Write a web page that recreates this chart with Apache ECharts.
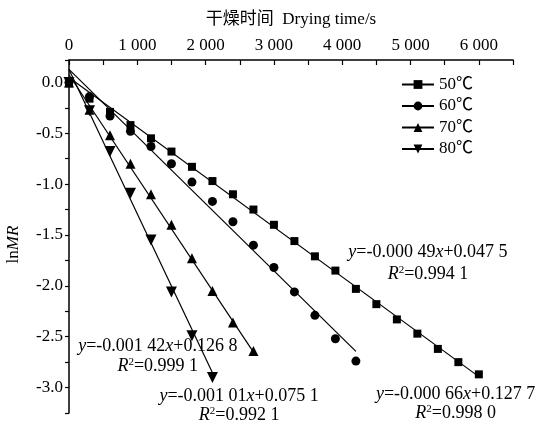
<!DOCTYPE html>
<html>
<head>
<meta charset="utf-8">
<script src="https://cdn.jsdelivr.net/npm/echarts@6/dist/echarts.min.js"></script>
<style>
html, body { margin: 0; padding: 0; background: #fff; }
#chart { width: 542px; height: 423px; }
</style>
</head>
<body>
<div id="chart"></div>
<script>
// 干燥时间 (s)
var times = [0, 300, 600, 900, 1200, 1500, 1800, 2100, 2400, 2700, 3000,
             3300, 3600, 3900, 4200, 4500, 4800, 5100, 5400, 5700, 6000];
// lnMR 实测值
var lnMR50 = [-0.01, -0.16, -0.29, -0.42, -0.55, -0.68, -0.83, -0.97, -1.10, -1.25, -1.40,
              -1.56, -1.71, -1.85, -2.03, -2.18, -2.33, -2.47, -2.62, -2.75, -2.87];
var lnMR60 = [0, -0.14, -0.33, -0.48, -0.63, -0.80, -0.98, -1.17, -1.37, -1.60, -1.82,
              -2.06, -2.29, -2.52, -2.74];
var lnMR70 = [0, -0.27, -0.52, -0.80, -1.10, -1.40, -1.73, -2.05, -2.36, -2.64];
var lnMR80 = [0, -0.28, -0.68, -1.09, -1.55, -2.06, -2.49, -2.90];
// 拟合方程 y = k x + b
var names = ['50℃', '60℃', '70℃', '80℃'];
var fitK = [-0.00049, -0.00066, -0.00101, -0.00142];
var fitB = [0.0475, 0.1277, 0.0751, 0.1268];
var fitEnd = [6000, 4200, 2700, 2100];
var eqText = ['-0.000 49', '-0.000 66', '-0.001 01', '-0.001 42'];
var eqB = ['0.047 5', '0.127 7', '0.075 1', '0.126 8'];
var r2Text = ['0.994 1', '0.998 0', '0.992 1', '0.999 1'];

var FONT = '"Liberation Serif", "Times New Roman", "Noto Sans CJK SC", serif';
var allData = [lnMR50, lnMR60, lnMR70, lnMR80];
var symbols = ['rect', 'circle', 'triangle', 'triangle'];
var rotates = [0, 0, 0, 180];
var sizes = [8, 9, 10, 11];
// 方程标注位置（数据坐标）
var notePos = [[5255, -1.668], [5660, -3.065], [2490, -3.085], [1300, -2.593]];
var lineGap = [0.22, 0.19, 0.19, 0.20];

var chart = echarts.init(document.getElementById('chart'));

var series = [];
names.forEach(function (n, i) {
  // 拟合直线
  series.push({
    name: n,
    type: 'line',
    symbol: symbols[i],
    symbolRotate: rotates[i],
    showSymbol: false,
    silent: true,
    color: '#000',
    lineStyle: { color: '#000', width: 1.2 },
    data: [[0, fitB[i]], [fitEnd[i], fitB[i] + fitK[i] * fitEnd[i]]],
    z: 2
  });
  // 实测点
  series.push({
    name: n,
    type: 'scatter',
    symbol: symbols[i],
    symbolRotate: rotates[i],
    symbolSize: sizes[i],
    itemStyle: { color: '#000', opacity: 1 },
    data: allData[i].map(function (v, j) { return [times[j], v]; }),
    z: 3
  });
});

var rich = {
  i: { fontStyle: 'italic', fontFamily: FONT, fontSize: 18, color: '#000' },
  n: { fontFamily: FONT, fontSize: 18, color: '#000' },
  s: { fontFamily: FONT, fontSize: 11, color: '#000', padding: [0, 0, 8, 0] }
};
var notes = [];
names.forEach(function (n, i) {
  notes.push({ value: notePos[i], txt: '{i|y}{n|=' + eqText[i] + '}{i|x}{n|+' + eqB[i] + '}' });
  notes.push({ value: [notePos[i][0], notePos[i][1] - lineGap[i]], txt: '{i|R}{s|2}{n|=' + r2Text[i] + '}' });
});
series.push({
  name: 'notes',
  type: 'scatter',
  silent: true,
  clip: false,
  symbolSize: 1,
  itemStyle: { color: 'rgba(0,0,0,0)', opacity: 1 },
  label: {
    show: true,
    position: 'inside',
    color: '#000',
    opacity: 1,
    formatter: function (p) { return notes[p.dataIndex].txt; },
    rich: rich
  },
  data: notes.map(function (d) { return d.value; }),
  z: 4
});

chart.setOption({
  animation: false,
  backgroundColor: '#fff',
  textStyle: { fontFamily: FONT, color: '#000' },
  grid: { left: 69, right: 29, top: 60, bottom: 10, outerBoundsMode: 'none', containLabel: false },
  legend: {
    data: names,
    orient: 'vertical',
    left: 396,
    top: 71,
    itemWidth: 32,
    itemHeight: 11,
    itemGap: 4.5,
    textStyle: { fontFamily: FONT, fontSize: 17, color: '#000' }
  },
  xAxis: {
    type: 'value',
    position: 'top',
    min: 0,
    max: 6500,
    interval: 500,
    name: '干燥时间  Drying time/s',
    nameLocation: 'middle',
    nameGap: 32,
    nameTextStyle: { fontFamily: FONT, fontSize: 17, color: '#000' },
    axisLine: { show: true, onZero: false, lineStyle: { color: '#000', width: 1.5 } },
    axisTick: { show: true, inside: true, length: 5, lineStyle: { color: '#000', width: 1.2 } },
    axisLabel: {
      fontFamily: FONT, fontSize: 17, color: '#000', margin: 6,
      formatter: function (v) {
        if (v % 1000 !== 0 || v > 6000) return '';
        return v === 0 ? '0' : (v / 1000) + ' 000';
      }
    },
    splitLine: { show: false }
  },
  yAxis: {
    type: 'value',
    min: -3.25,
    max: 0.22,
    interval: 0.25,
    name: 'ln{i|MR}',
    nameLocation: 'middle',
    nameGap: 47,
    nameTextStyle: {
      fontFamily: FONT, fontSize: 17, color: '#000',
      padding: [0, 16, 0, 0],
      rich: { i: { fontFamily: FONT, fontSize: 17, fontStyle: 'italic', color: '#000' } }
    },
    axisLine: { show: true, onZero: false, lineStyle: { color: '#000', width: 1.5 } },
    axisTick: { show: true, inside: false, length: 4, lineStyle: { color: '#000', width: 1.2 } },
    axisLabel: {
      fontFamily: FONT, fontSize: 17, color: '#000', margin: 6,
      formatter: function (v) {
        var r = Math.round(v * 2);
        return Math.abs(v * 2 - r) < 1e-6 ? v.toFixed(1) : '';
      }
    },
    splitLine: { show: false }
  },
  series: series
});
</script>
</body>
</html>
